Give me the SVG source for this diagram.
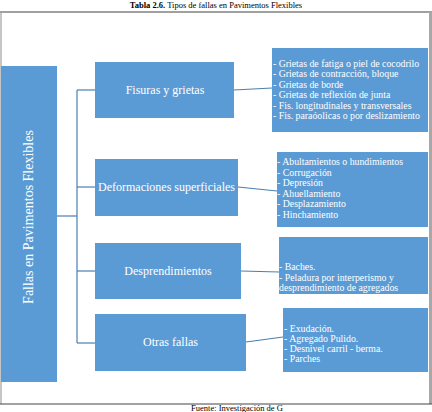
<svg xmlns="http://www.w3.org/2000/svg" width="432" height="412" viewBox="0 0 432 412">
<style>
.box{fill:#5B9BD5;}
.conn{stroke:#4A7FB0;stroke-width:1.2;fill:none;}
.t{font-family:"Liberation Serif","Times New Roman",serif;fill:#ffffff;}
.l1{font-size:12px;text-anchor:middle;}
.l2{font-size:9.8px;}
.cap{font-family:"Liberation Serif","Times New Roman",serif;font-size:8.5px;fill:#000;text-anchor:middle;}
</style>
<rect width="432" height="412" fill="#ffffff"/>
<text class="cap" x="216" y="8"><tspan font-weight="bold">Tabla 2.6.</tspan> Tipos de fallas en Pavimentos Flexibles</text>
<line x1="0" y1="12" x2="432" y2="12" stroke="#a0a0a0" stroke-width="2"/>
<line x1="1" y1="12" x2="1" y2="404" stroke="#a0a0a0" stroke-width="1.2"/>
<line x1="430.5" y1="12" x2="430.5" y2="404" stroke="#a8a8a8" stroke-width="3"/>
<line x1="0" y1="404" x2="432" y2="404" stroke="#444" stroke-width="1"/>
<text class="cap" x="237" y="410.5">Fuente: Investigación de G</text>
<g id="connectors">
<line class="conn" x1="57" y1="216" x2="77" y2="216"/>
<line class="conn" x1="77" y1="90" x2="77" y2="343"/>
<line class="conn" x1="77" y1="90" x2="95" y2="90"/>
<line class="conn" x1="77" y1="187" x2="95" y2="187"/>
<line class="conn" x1="77" y1="271" x2="95" y2="271"/>
<line class="conn" x1="77" y1="343" x2="95" y2="343"/>
<line class="conn" x1="234" y1="90" x2="272" y2="88"/>
<line class="conn" x1="238" y1="187" x2="277" y2="191"/>
<line class="conn" x1="241" y1="271" x2="279" y2="272"/>
<line class="conn" x1="246" y1="342" x2="283" y2="337"/>
</g>
<g id="root">
<rect class="box" x="1" y="66" width="56" height="316"/>
<text class="t" font-size="14" text-anchor="middle" transform="translate(33,217) rotate(-90)">Fallas en Pavimentos Flexibles</text>
</g>
<g id="fisuras">
<rect class="box" x="95" y="62" width="139" height="56"/>
<text class="t l1" x="165" y="94">Fisuras y grietas</text>
</g>
<g id="deformaciones">
<rect class="box" x="95" y="159" width="143" height="57"/>
<text class="t l1" x="166.5" y="191">Deformaciones superficiales</text>
</g>
<g id="desprendimientos">
<rect class="box" x="95" y="243" width="146" height="56"/>
<text class="t l1" x="168" y="275">Desprendimientos</text>
</g>
<g id="otras">
<rect class="box" x="95" y="314" width="151" height="57"/>
<text class="t l1" x="170.5" y="346">Otras fallas</text>
</g>
<g id="lista-fisuras">
<rect class="box" x="272" y="48" width="156" height="84"/>
<text class="t l2" x="273" y="67">
<tspan x="273" dy="0">- Grietas de fatiga o piel de cocodrilo</tspan>
<tspan x="273" dy="10.4">- Grietas de  contracción, bloque</tspan>
<tspan x="273" dy="10.4">- Grietas de borde</tspan>
<tspan x="273" dy="10.4">- Grietas de reflexión de junta</tspan>
<tspan x="273" dy="10.4">- Fis. longitudinales y transversales</tspan>
<tspan x="273" dy="10.4">- Fis. paraóolicas o por deslizamiento</tspan>
</text>
</g>
<g id="lista-deformaciones">
<rect class="box" x="277" y="152" width="151" height="75"/>
<text class="t l2" x="277" y="165">
<tspan x="277" dy="0">- Abultamientos o hundimientos</tspan>
<tspan x="277" dy="10.6">- Corrugación</tspan>
<tspan x="277" dy="10.6">- Depresión</tspan>
<tspan x="277" dy="10.6">- Ahuellamiento</tspan>
<tspan x="277" dy="10.6">- Desplazamiento</tspan>
<tspan x="277" dy="10.6">- Hinchamiento</tspan>
</text>
</g>
<g id="lista-desprendimientos">
<rect class="box" x="279" y="237" width="149" height="57"/>
<text class="t l2" x="279" y="270">
<tspan x="279" dy="0">- Baches.</tspan>
<tspan x="279" dy="10.5">- Peladura por interperismo y</tspan>
<tspan x="279" dy="10.5">desprendimiento de agregados</tspan>
</text>
</g>
<g id="lista-otras">
<rect class="box" x="283" y="308" width="145" height="64"/>
<text class="t l2" x="284" y="331.5">
<tspan x="284" dy="0">- Exudación.</tspan>
<tspan x="284" dy="10">- Agregado Pulido.</tspan>
<tspan x="284" dy="10">- Desnivel carril - berma.</tspan>
<tspan x="284" dy="10">- Parches</tspan>
</text>
</g>
</svg>
